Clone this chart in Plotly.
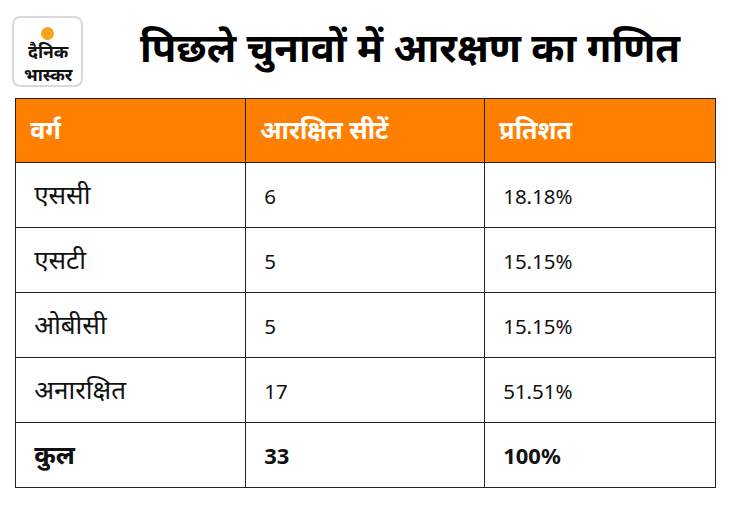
import plotly.graph_objects as go

headers = ["वर्ग", "आरक्षित सीटें", "प्रतिशत"]
categories = ["एससी", "एसटी", "ओबीसी", "अनारक्षित", "कुल"]
seats = ["6", "5", "5", "17", "33"]
percents = ["18.18%", "15.15%", "15.15%", "51.51%", "100%"]
title_text = "पिछले चुनावों में आरक्षण का गणित"
logo_text = "दैनिक<br>भास्कर"

# The page body has an 8px margin, so the figure is 16px smaller and shifted.
OFF = 8
W, H = 730 - 2 * OFF, 505 - 2 * OFF
FONT = "Noto Sans, Noto Sans Devanagari, sans-serif"


def px(x):
    return (x - OFF) / W


def py(y):
    return 1 - (y - OFF) / H


NB = "\u00a0"


def cell_text(v, size, bold=False, indent=3):
    inner = f"<b>{v}</b>" if bold else v
    # first (blank) line pushes the visible text down to the middle of the cell
    return f"{NB}<br>{NB * indent}<span style='font-size:{size}px'>{inner}</span>"


def column(vals, size, last_size):
    n = len(vals)
    return [cell_text(v, last_size if i == n - 1 else size, bold=(i == n - 1))
            for i, v in enumerate(vals)]


fig = go.Figure()
fig.add_trace(go.Table(
    domain=dict(x=[px(15), px(715)], y=[py(488), py(98)]),
    columnwidth=[230, 239, 231],
    header=dict(
        values=[cell_text(h, 25, bold=True, indent=2) for h in headers],
        fill_color="#FF8000",
        line=dict(color="#222222", width=1),
        font=dict(family=FONT, size=14.1, color="white"),
        align="left",
        height=64,
    ),
    cells=dict(
        values=[column(categories, 26, 26), column(seats, 20.5, 22), column(percents, 20.5, 22)],
        fill_color="white",
        line=dict(color="#222222", width=1),
        font=dict(family=FONT, size=14.3, color="#111111"),
        align="left",
        height=65,
    ),
))

fig.add_annotation(
    x=px(410), y=py(46), xref="paper", yref="paper",
    text=f"<b>{title_text}</b>", showarrow=False,
    font=dict(family=FONT, size=40, color="black"),
    xanchor="center", yanchor="middle",
)

# logo: rounded square, sun and name
x0, x1, y0, y1, r = px(13), px(82), py(86), py(17), 8
rx, ry = r / W, r / H
path = (f"M {x0+rx},{y0} L {x1-rx},{y0} Q {x1},{y0} {x1},{y0+ry} "
        f"L {x1},{y1-ry} Q {x1},{y1} {x1-rx},{y1} L {x0+rx},{y1} "
        f"Q {x0},{y1} {x0},{y1-ry} L {x0},{y0+ry} Q {x0},{y0} {x0+rx},{y0} Z")
fig.add_shape(type="path", path=path, xref="paper", yref="paper",
              line=dict(color="#d9d9d9", width=2), fillcolor="white")
fig.add_shape(type="circle", xref="paper", yref="paper",
              x0=px(41), x1=px(54), y0=py(40), y1=py(27),
              line=dict(width=0), fillcolor="#F7A21B")
fig.add_annotation(x=px(48), y=py(63), xref="paper", yref="paper",
                   text=f"<b>{logo_text}</b>", showarrow=False,
                   font=dict(family=FONT, size=17.5, color="#111111"),
                   xanchor="center", yanchor="middle")

fig.update_layout(
    width=W, height=H,
    margin=dict(l=0, r=0, t=0, b=0),
    paper_bgcolor="white", plot_bgcolor="white",
)
fig.write_html("out.html")
